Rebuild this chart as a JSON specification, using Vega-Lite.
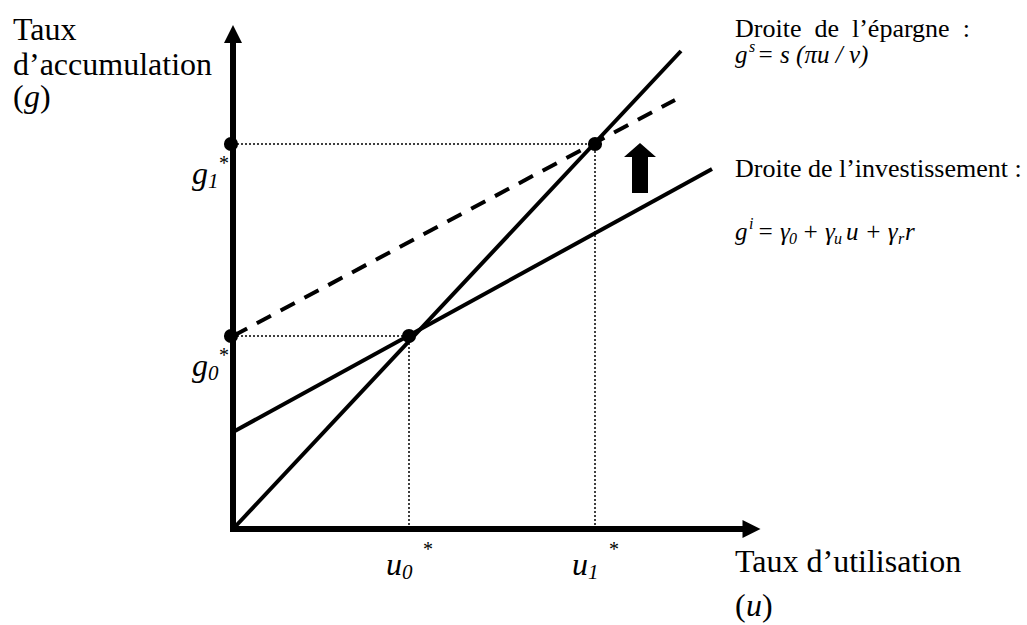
{
  "$schema": "https://vega.github.io/schema/vega-lite/v6.json",
  "width": 1027,
  "height": 625,
  "padding": 0,
  "autosize": {"type": "fit", "contains": "padding"},
  "background": "white",
  "config": {"view": {"stroke": null}},
  "datasets": {
    "dotted": [
      {"x": 0, "y": 3.85, "x2": 3.62, "y2": 3.85},
      {"x": 0, "y": 1.93, "x2": 1.76, "y2": 1.93},
      {"x": 1.76, "y": 0, "x2": 1.76, "y2": 1.93},
      {"x": 3.62, "y": 0, "x2": 3.62, "y2": 3.85}
    ],
    "axes": [
      {"x": 0, "y": 0, "x2": 5.1, "y2": 0},
      {"x": 0, "y": 0, "x2": 0, "y2": 4.86}
    ],
    "solid": [
      {"x": 0, "y": 0, "x2": 4.48, "y2": 4.78},
      {"x": 0, "y": 0.97, "x2": 4.79, "y2": 3.6}
    ],
    "dashed": [
      {"x": 0, "y": 1.93, "x2": 4.42, "y2": 4.29}
    ],
    "arrowUp": [{"x": 0, "y": 4.95}],
    "arrowRight": [{"x": 5.185, "y": 0}],
    "bigArrow": [{"x": 4.07, "y": 3.61}],
    "dots": [
      {"x": -0.02, "y": 3.85},
      {"x": -0.02, "y": 1.93},
      {"x": 1.76, "y": 1.93},
      {"x": 3.62, "y": 3.85}
    ],
    "labels": [
      {"x": -2.2, "y": 4.89, "t": "Taux"},
      {"x": -2.2, "y": 4.54, "t": "d’accumulation"},
      {"x": -2.2, "y": 4.22, "t": "("},
      {"x": -1.93, "y": 4.22, "t": ")"},
      {"x": 5.02, "y": -0.43, "t": "Taux d’utilisation"},
      {"x": 5.02, "y": -0.87, "t": "("},
      {"x": 5.29, "y": -0.87, "t": ")"}
    ],
    "math": [
      {"x": -2.09, "y": 4.22, "t": "g"},
      {"x": 5.13, "y": -0.87, "t": "u"},
      {"x": -0.41, "y": 3.45, "t": "g"},
      {"x": -0.41, "y": 1.53, "t": "g"},
      {"x": 1.53, "y": -0.46, "t": "u"},
      {"x": 3.39, "y": -0.46, "t": "u"}
    ],
    "subs": [
      {"x": -0.25, "y": 3.41, "t": "1"},
      {"x": -0.25, "y": 1.49, "t": "0"},
      {"x": 1.69, "y": -0.5, "t": "0"},
      {"x": 3.55, "y": -0.5, "t": "1"}
    ],
    "stars": [
      {"x": -0.14, "y": 3.59, "t": "*"},
      {"x": -0.14, "y": 1.67, "t": "*"},
      {"x": 1.9, "y": -0.27, "t": "*"},
      {"x": 3.76, "y": -0.27, "t": "*"}
    ],
    "annots": [
      {"x": 5.02, "y": 4.92, "t": "Droite\u00a0\u00a0de\u00a0\u00a0l’épargne\u00a0\u00a0:"},
      {"x": 5.02, "y": 3.52, "t": "Droite de l’investissement :"}
    ],
    "fmath": [
      {"x": 5.02, "y": 4.66, "t": "g"},
      {"x": 5.24, "y": 4.66, "t": "= s (πu / v)"},
      {"x": 5.02, "y": 2.89, "t": "g"},
      {"x": 5.24, "y": 2.89, "t": "= γ"},
      {"x": 5.69, "y": 2.89, "t": "+ γ"},
      {"x": 6.13, "y": 2.89, "t": "u + γ"},
      {"x": 6.72, "y": 2.89, "t": "r"}
    ],
    "fsup": [
      {"x": 5.16, "y": 4.77, "t": "s"},
      {"x": 5.16, "y": 3.0, "t": "i"}
    ],
    "fsub": [
      {"x": 5.56, "y": 2.85, "t": "0"},
      {"x": 6.01, "y": 2.85, "t": "u"},
      {"x": 6.65, "y": 2.85, "t": "r"}
    ]
  },
  "encoding": {
    "x": {"field": "x", "type": "quantitative", "scale": {"domain": [-2.33, 7.94], "nice": false, "zero": false}, "axis": null},
    "y": {"field": "y", "type": "quantitative", "scale": {"domain": [-0.96, 5.29], "nice": false, "zero": false}, "axis": null}
  },
  "layer": [
    {
      "data": {"name": "dotted"},
      "mark": {"type": "rule", "color": "black", "strokeWidth": 1.5, "strokeDash": [2, 2]},
      "encoding": {"x2": {"field": "x2"}, "y2": {"field": "y2"}}
    },
    {
      "data": {"name": "solid"},
      "mark": {"type": "rule", "color": "black", "strokeWidth": 4},
      "encoding": {"x2": {"field": "x2"}, "y2": {"field": "y2"}}
    },
    {
      "data": {"name": "dashed"},
      "mark": {"type": "rule", "color": "black", "strokeWidth": 4, "strokeDash": [16, 11]},
      "encoding": {"x2": {"field": "x2"}, "y2": {"field": "y2"}}
    },
    {
      "data": {"name": "axes"},
      "mark": {"type": "rule", "color": "black", "strokeWidth": 6, "strokeCap": "square"},
      "encoding": {"x2": {"field": "x2"}, "y2": {"field": "y2"}}
    },
    {
      "data": {"name": "arrowUp"},
      "mark": {"type": "point", "shape": "M0,-1L1,1L-1,1Z", "size": 324, "filled": true, "color": "black", "opacity": 1}
    },
    {
      "data": {"name": "arrowRight"},
      "mark": {"type": "point", "shape": "M1,0L-1,-1L-1,1Z", "size": 324, "filled": true, "color": "black", "opacity": 1}
    },
    {
      "data": {"name": "bigArrow"},
      "mark": {"type": "point", "shape": "M0,-1L0.64,-0.44L0.32,-0.44L0.32,1L-0.32,1L-0.32,-0.44L-0.64,-0.44Z", "size": 2500, "filled": true, "color": "black", "opacity": 1}
    },
    {
      "data": {"name": "dots"},
      "mark": {"type": "circle", "size": 200, "color": "black", "opacity": 1}
    },
    {
      "data": {"name": "labels"},
      "mark": {"type": "text", "font": "Liberation Serif", "fontSize": 32, "align": "left", "baseline": "alphabetic", "color": "black"},
      "encoding": {"text": {"field": "t"}}
    },
    {
      "data": {"name": "math"},
      "mark": {"type": "text", "font": "Liberation Serif", "fontSize": 32, "fontStyle": "italic", "align": "left", "baseline": "alphabetic", "color": "black"},
      "encoding": {"text": {"field": "t"}}
    },
    {
      "data": {"name": "subs"},
      "mark": {"type": "text", "font": "Liberation Serif", "fontSize": 21, "fontStyle": "italic", "align": "left", "baseline": "alphabetic", "color": "black"},
      "encoding": {"text": {"field": "t"}}
    },
    {
      "data": {"name": "stars"},
      "mark": {"type": "text", "font": "Liberation Serif", "fontSize": 20, "align": "left", "baseline": "alphabetic", "color": "black"},
      "encoding": {"text": {"field": "t"}}
    },
    {
      "data": {"name": "annots"},
      "mark": {"type": "text", "font": "Liberation Serif", "fontSize": 26, "align": "left", "baseline": "alphabetic", "color": "black"},
      "encoding": {"text": {"field": "t"}}
    },
    {
      "data": {"name": "fmath"},
      "mark": {"type": "text", "font": "Liberation Serif", "fontSize": 25, "fontStyle": "italic", "align": "left", "baseline": "alphabetic", "color": "black"},
      "encoding": {"text": {"field": "t"}}
    },
    {
      "data": {"name": "fsup"},
      "mark": {"type": "text", "font": "Liberation Serif", "fontSize": 16, "fontStyle": "italic", "align": "left", "baseline": "alphabetic", "color": "black"},
      "encoding": {"text": {"field": "t"}}
    },
    {
      "data": {"name": "fsub"},
      "mark": {"type": "text", "font": "Liberation Serif", "fontSize": 16, "fontStyle": "italic", "align": "left", "baseline": "alphabetic", "color": "black"},
      "encoding": {"text": {"field": "t"}}
    }
  ]
}
